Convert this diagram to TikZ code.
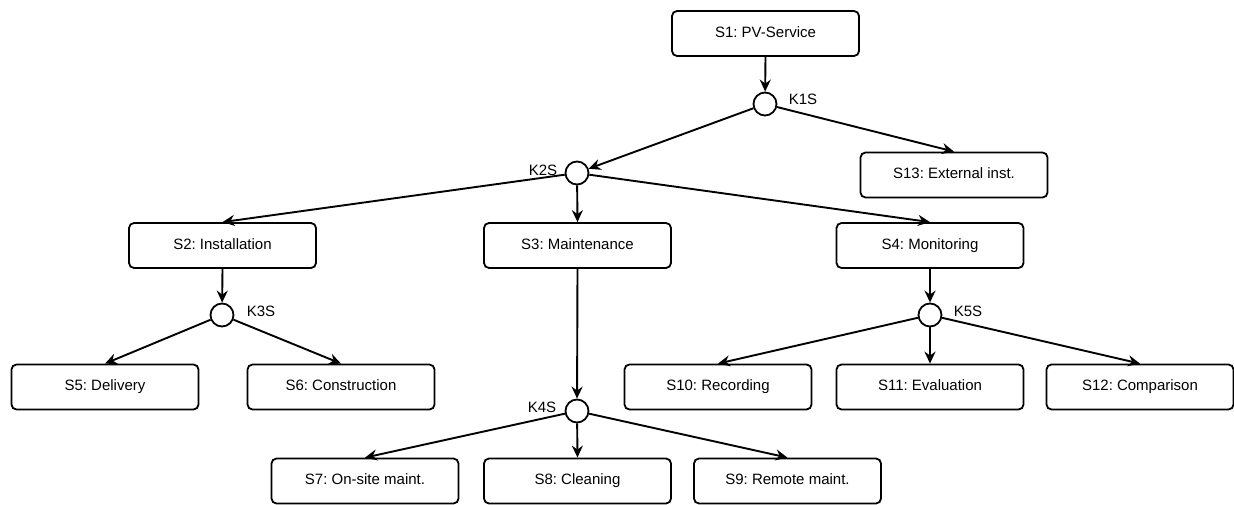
\documentclass[tikz,border=0pt]{standalone}
\usepackage{fontspec}
\setmainfont{Liberation Sans}
\frenchspacing
\usetikzlibrary{arrows.meta}
\begin{document}
\begin{tikzpicture}[x=1pt,y=-1pt,
  box/.style={draw,line width=1.8pt,rounded corners=5pt,minimum width=187pt,minimum height=45pt,inner sep=0pt,text height=10.8pt,text depth=3.2pt,font=\fontsize{15}{18}\selectfont,fill=white},
  junc/.style={draw,line width=1.8pt,circle,minimum size=23pt,inner sep=0pt,fill=white},
  lbl/.style={font=\fontsize{15}{18}\selectfont,inner sep=0pt,text height=10.8pt,text depth=0pt},
  arr/.style={line width=1.9pt,-{Stealth[length=12pt,width=11pt,inset=4pt]}}]
\useasboundingbox (0,0) rectangle (1234,505);
% boxes
\node[box] (s1) at (765.5,33.5) {S1: PV-Service};
\node[box] (s13) at (954,175) {S13: External inst.};
\node[box] (s2) at (222.5,245.5) {S2: Installation};
\node[box] (s3) at (577.5,245.5) {S3: Maintenance};
\node[box] (s4) at (930,245.5) {S4: Monitoring};
\node[box] (s5) at (105,387) {S5: Delivery};
\node[box] (s6) at (341,387) {S6: Construction};
\node[box] (s10) at (718,387) {S10: Recording};
\node[box] (s11) at (930,387) {S11: Evaluation};
\node[box] (s12) at (1140,387) {S12: Comparison};
\node[box] (s7) at (365,481) {S7: On-site maint.};
\node[box] (s8) at (577.5,481) {S8: Cleaning};
\node[box] (s9) at (787.5,481) {S9: Remote maint.};
% junctions
\node[junc] (k1) at (765,104) {};
\node[junc] (k2) at (577,173) {};
\node[junc] (k3) at (222,315) {};
\node[junc] (k4) at (577,411) {};
\node[junc] (k5) at (930,315) {};
% labels
\node[lbl] (l1) at (803,99) {K1S};
\node[lbl] (l2) at (543,170) {K2S};
\node[lbl] (l3) at (261,311) {K3S};
\node[lbl] (l4) at (542,407) {K4S};
\node[lbl] (l5) at (968,311) {K5S};
% connectors
\draw[arr] (s1.south) -- (k1);
\draw[arr] (k1) -- (k2);
\draw[arr] (k1) -- (s13.north);
\draw[arr] (k2) -- (s2.north);
\draw[arr] (k2) -- (s3.north);
\draw[arr] (k2) -- (s4.north);
\draw[arr] (s2.south) -- (k3);
\draw[arr] (k3) -- (s5.north);
\draw[arr] (k3) -- (s6.north);
\draw[arr] (s3.south) -- (k4);
\draw[arr] (k4) -- (s7.north);
\draw[arr] (k4) -- (s8.north);
\draw[arr] (k4) -- (s9.north);
\draw[arr] (s4.south) -- (k5);
\draw[arr] (k5) -- (s10.north);
\draw[arr] (k5) -- (s11.north);
\draw[arr] (k5) -- (s12.north);
\end{tikzpicture}
\end{document}
